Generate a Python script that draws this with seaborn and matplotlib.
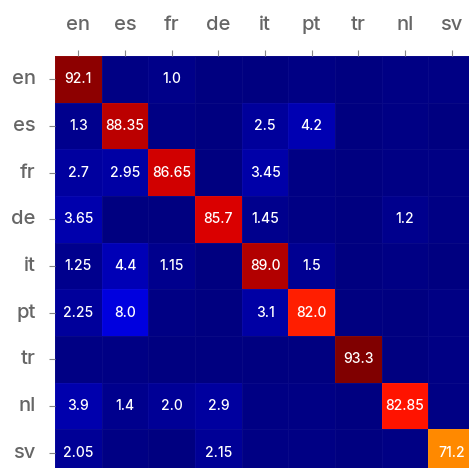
import numpy as np
import matplotlib
matplotlib.use('Agg')
import matplotlib.pyplot as plt
import seaborn as sns

# ── Languages (rows = true, cols = predicted) ──────────────────────────────
LANGS = ['en', 'es', 'fr', 'de', 'it', 'pt', 'tr', 'nl', 'sv']

# ── Confusion values in percent (values < 1 are not annotated) ─────────────
ROW_EN = [92.1, 0.6, 1.0, 0.3, 0.3, 0.4, 0.2, 0.4, 0.5]
ROW_ES = [1.3, 88.35, 0.5, 0.1, 2.5, 4.2, 0.2, 0.4, 0.3]
ROW_FR = [2.7, 2.95, 86.65, 0.3, 3.45, 0.6, 0.3, 0.5, 0.4]
ROW_DE = [3.65, 0.2, 0.3, 85.7, 1.45, 0.5, 0.3, 1.2, 0.7]
ROW_IT = [1.25, 4.4, 1.15, 0.2, 89.0, 1.5, 0.3, 0.4, 0.3]
ROW_PT = [2.25, 8.0, 0.5, 0.2, 3.1, 82.0, 0.3, 0.3, 0.4]
ROW_TR = [0.4, 0.4, 0.3, 0.3, 0.3, 0.3, 93.3, 0.3, 0.4]
ROW_NL = [3.9, 1.4, 2.0, 2.9, 0.5, 0.4, 0.3, 82.85, 0.6]
ROW_SV = [2.05, 0.6, 0.3, 2.15, 0.4, 0.4, 0.3, 0.5, 71.2]

matrix = np.array([ROW_EN, ROW_ES, ROW_FR, ROW_DE, ROW_IT,
                   ROW_PT, ROW_TR, ROW_NL, ROW_SV])
labels = np.array([[f'{v}' if v >= 1 else '' for v in row] for row in matrix])

plt.rcParams['font.family'] = ['Inter', 'DejaVu Sans']

fig = plt.figure(figsize=(4.69, 4.68), dpi=100)
# heatmap runs past the right and bottom edges, as in the reference
ax = fig.add_axes([55 / 469, 1 - 476 / 468, 420 / 469, 420 / 468])

sns.heatmap(matrix, ax=ax, cmap='jet', vmin=0, vmax=matrix.max(),
            annot=labels, fmt='', cbar=False,
            annot_kws={'color': 'white', 'fontsize': 10, 'fontweight': 'medium'},
            linewidths=0.5, linecolor=(1, 1, 1, 0.04),
            xticklabels=LANGS, yticklabels=LANGS)

ax.xaxis.tick_top()
ax.tick_params(axis='x', length=4, pad=12, labelsize=14.5,
               colors='#888888', labelcolor='#666666')
ax.tick_params(axis='y', length=4, pad=10, labelsize=14.5, rotation=0,
               colors='#888888', labelcolor='#666666')
for lbl in ax.get_xticklabels() + ax.get_yticklabels():
    lbl.set_fontweight('medium')
for s in ax.spines.values():
    s.set_visible(False)

fig.savefig('out.png', dpi=100)
